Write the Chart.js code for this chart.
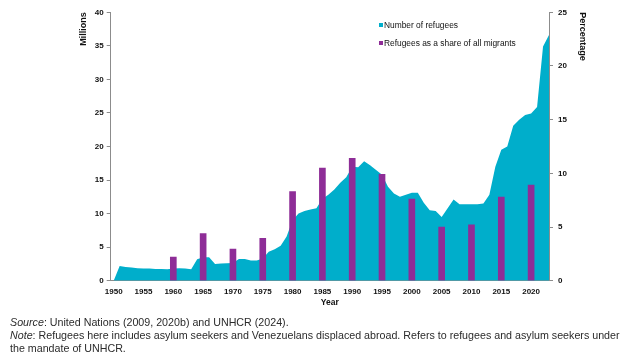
<!DOCTYPE html>
<html>
<head>
<meta charset="utf-8">
<script src="https://cdn.jsdelivr.net/npm/chart.js@4.4.1/dist/chart.umd.min.js"></script>
<style>
html,body{margin:0;padding:0;background:#fff;}
#wrap{position:relative;width:627px;height:355px;overflow:hidden;font-family:"Liberation Sans",Arial,Helvetica,sans-serif;}
#c{position:absolute;left:0;top:0;}
.li{position:absolute;white-space:nowrap;font-size:8.4px;line-height:10px;color:#111;}
.sw{position:absolute;width:4px;height:4px;}
#notes{position:absolute;left:10px;top:316px;font-size:10.7px;line-height:13.2px;color:#2b2b2b;white-space:nowrap;}
</style>
</head>
<body>
<div id="wrap">
<canvas id="c" width="627" height="355"></canvas>
<div id="legend"></div>
<div id="notes"><i>Source</i>: United Nations (2009, 2020b) and UNHCR (2024).<br><i>Note</i>: Refugees here includes asylum seekers and Venezuelans displaced abroad. Refers to refugees and asylum seekers under<br>the mandate of UNHCR.</div>
</div>
<script>
// ---- Data ----
const years = [1950,1951,1952,1953,1954,1955,1956,1957,1958,1959,
  1960,1961,1962,1963,1964,1965,1966,1967,1968,1969,
  1970,1971,1972,1973,1974,1975,1976,1977,1978,1979,
  1980,1981,1982,1983,1984,1985,1986,1987,1988,1989,
  1990,1991,1992,1993,1994,1995,1996,1997,1998,1999,
  2000,2001,2002,2003,2004,2005,2006,2007,2008,2009,
  2010,2011,2012,2013,2014,2015,2016,2017,2018,2019,
  2020,2021,2022,2023];
const refugeesMillions = [0,2.2,2.05,1.95,1.85,1.8,1.8,1.75,1.75,1.7,
  1.8,1.85,1.8,1.7,3.2,3.5,3.5,2.5,2.55,2.6,
  2.65,3.25,3.25,3.0,3.0,3.3,4.3,4.7,5.2,6.6,
  9.0,10.0,10.4,10.6,10.8,12.2,12.8,13.6,14.6,15.4,
  17.0,16.9,17.8,17.2,16.5,15.8,14.0,13.0,12.5,12.8,
  13.1,13.1,11.6,10.5,10.4,9.5,10.8,12.1,11.4,11.4,
  11.4,11.4,11.5,12.8,17.0,19.5,20.0,23.1,24.0,24.7,
  24.9,25.9,34.9,36.6];
const shareYears = [1960,1965,1970,1975,1980,1985,1990,1995,2000,2005,2010,2015,2020];
const sharePercent = [2.2,4.4,2.95,3.95,8.3,10.5,11.4,9.9,7.6,5.0,5.2,7.8,8.9];
const xTickYears = [1950,1955,1960,1965,1970,1975,1980,1985,1990,1995,2000,2005,2010,2015,2020];
const seriesLabels = ['Number of refugees','Refugees as a share of all migrants'];
const axisTitles = {x:'Year', left:'Millions', right:'Percentage'};

// ---- Styles ----
const teal = '#00AECB';
const purple = '#8E2D97';
const axisGray = '#8c8c8c';
const fam = '"Liberation Sans", Arial, Helvetica, sans-serif';
const tickFont = {family: fam, size: 8, weight: 'bold'};
const titleFont = {family: fam, size: 9, weight: 'bold'};

const chart = new Chart(document.getElementById('c').getContext('2d'), {
  type: 'line',
  data: {
    datasets: [
      {
        type: 'bar',
        label: seriesLabels[1],
        data: shareYears.map((y, i) => ({x: y, y: sharePercent[i]})),
        xAxisID: 'x', yAxisID: 'y1',
        backgroundColor: purple,
        borderWidth: 0,
        barThickness: 6,
        order: 0
      },
      {
        type: 'line',
        label: seriesLabels[0],
        data: years.map((y, i) => ({x: y, y: refugeesMillions[i]})),
        xAxisID: 'x', yAxisID: 'y',
        fill: 'origin',
        backgroundColor: teal,
        borderColor: teal,
        borderWidth: 0,
        pointRadius: 0,
        tension: 0,
        order: 1
      }
    ]
  },
  options: {
    responsive: false,
    animation: false,
    layout: {padding: {left: 78.6, right: 39.6, top: 12.3, bottom: 47.2}},
    plugins: {legend: {display: false}, tooltip: {enabled: false}},
    scales: {
      x: {
        type: 'linear', position: 'bottom', min: 1949.5, max: 2023, offset: false,
        afterBuildTicks: s => { s.ticks = xTickYears.map(v => ({value: v})); },
        afterFit: s => { s.height = 27.1; s.paddingLeft = 0; s.paddingRight = 0; },
        grid: {display: false, drawTicks: false, tickLength: 0},
        border: {display: true, color: axisGray, width: 1},
        ticks: {padding: 6, font: tickFont, color: '#111', maxRotation: 0, autoSkip: false, callback: v => String(v)},
        title: {display: true, text: axisTitles.x, font: {family: fam, size: 8.5, weight: 'bold'}, color: '#111', padding: 0}
      },
      y: {
        position: 'left', min: 0, max: 40,
        afterFit: s => { s.width = 32.1; s.paddingTop = 0; s.paddingBottom = 0; },
        grid: {display: true, drawOnChartArea: false, drawTicks: true, tickLength: 4, color: axisGray},
        border: {display: true, color: axisGray, width: 1},
        ticks: {stepSize: 5, padding: 3, font: tickFont, color: '#111'},
        title: {display: true, text: axisTitles.left, align: 'end', font: titleFont, color: '#111', padding: 0}
      },
      y1: {
        position: 'right', min: 0, max: 25,
        afterFit: s => { s.width = 38.4; s.paddingTop = 0; s.paddingBottom = 0; },
        grid: {display: true, drawOnChartArea: false, drawTicks: true, tickLength: 4, color: axisGray},
        border: {display: true, color: axisGray, width: 1},
        ticks: {stepSize: 5, padding: 5, font: tickFont, color: '#111'},
        title: {display: true, text: axisTitles.right, align: 'end', font: titleFont, color: '#111', padding: 0}
      }
    }
  }
});

// ---- HTML legend built from dataset labels ----
const legendItems = [
  {label: chart.data.datasets[1].label, color: chart.data.datasets[1].backgroundColor, cy: 25},
  {label: chart.data.datasets[0].label, color: chart.data.datasets[0].backgroundColor, cy: 43.3}
];
const lg = document.getElementById('legend');
legendItems.forEach(it => {
  const sw = document.createElement('div');
  sw.className = 'sw';
  sw.style.left = '379px';
  sw.style.top = (it.cy - 2) + 'px';
  sw.style.background = it.color;
  lg.appendChild(sw);
  const t = document.createElement('div');
  t.className = 'li';
  t.style.left = '384px';
  t.style.top = (it.cy - 5) + 'px';
  t.textContent = it.label;
  lg.appendChild(t);
});
</script>
</body>
</html>
